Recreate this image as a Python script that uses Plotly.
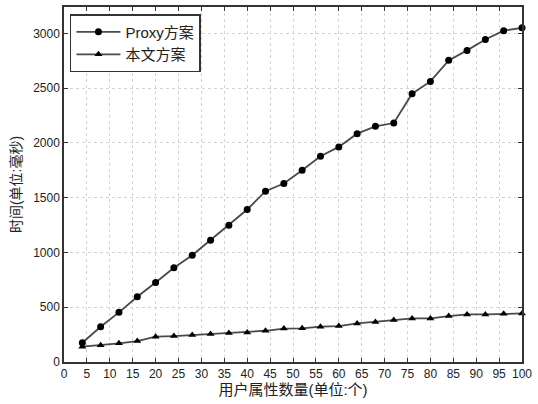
import plotly.graph_objects as go

x_vals = [4, 8, 12, 16, 20, 24, 28, 32, 36, 40, 44, 48, 52, 56, 60, 64, 68, 72, 76, 80, 84, 88, 92, 96, 100]
proxy_vals = [176, 322, 453, 595, 726, 860, 975, 1112, 1249, 1392, 1559, 1629, 1750, 1878, 1963,
              2084, 2151, 2181, 2449, 2561, 2753, 2844, 2944, 3024, 3050]
ours_vals = [140, 152, 170, 191, 231, 237, 246, 255, 264, 270, 285, 305, 307, 322, 328,
             352, 365, 383, 398, 398, 419, 434, 434, 440, 443]

series_names = ["Proxy方案", "本文方案"]
x_ticks = list(range(0, 101, 5))
y_ticks = list(range(0, 3001, 500))

font_family = "Liberation Sans, Arial, Noto Sans CJK SC, sans-serif"

fig = go.Figure()
fig.add_trace(go.Scatter(
    x=x_vals, y=proxy_vals, name=series_names[0], mode="lines+markers",
    line=dict(color="#4a4a4a", width=1.8),
    marker=dict(symbol="circle", size=7, color="black"),
    cliponaxis=False,
))
fig.add_trace(go.Scatter(
    x=x_vals, y=ours_vals, name=series_names[1], mode="lines+markers",
    line=dict(color="#4a4a4a", width=1.8),
    marker=dict(symbol="triangle-up", size=7, color="black"),
    cliponaxis=False,
))

axis_common = dict(
    showline=True, linecolor="#333333", linewidth=1.5, mirror="ticks",
    ticks="inside", ticklen=4, tickcolor="#333333",
    showgrid=True, gridcolor="#d4d4d4", griddash="dot", gridwidth=1,
    zeroline=False, automargin=False,
    tickfont=dict(size=12, color="#222222", family=font_family),
)

fig.update_layout(
    width=538, height=404,
    margin=dict(l=64, r=16, t=7, b=42),
    paper_bgcolor="white", plot_bgcolor="white",
    font=dict(family=font_family, color="#222222"),
    xaxis=dict(range=[0, 100], tickvals=x_ticks,
               title=dict(text="用户属性数量(单位:个)", font=dict(size=15), standoff=2),
               **axis_common),
    yaxis=dict(range=[0, 3240], tickvals=y_ticks,
               title=dict(text="时间(单位:毫秒)", font=dict(size=14), standoff=8),
               **axis_common),
    legend=dict(x=0.013, y=0.98, xanchor="left", yanchor="top",
                bordercolor="#333333", borderwidth=1.5, bgcolor="white",
                font=dict(size=15, color="#222222"), itemwidth=44),
    showlegend=True,
)

fig.write_html("out.html", config={"displayModeBar": False},
               post_script="document.body.style.margin='0';document.body.style.padding='0';")
